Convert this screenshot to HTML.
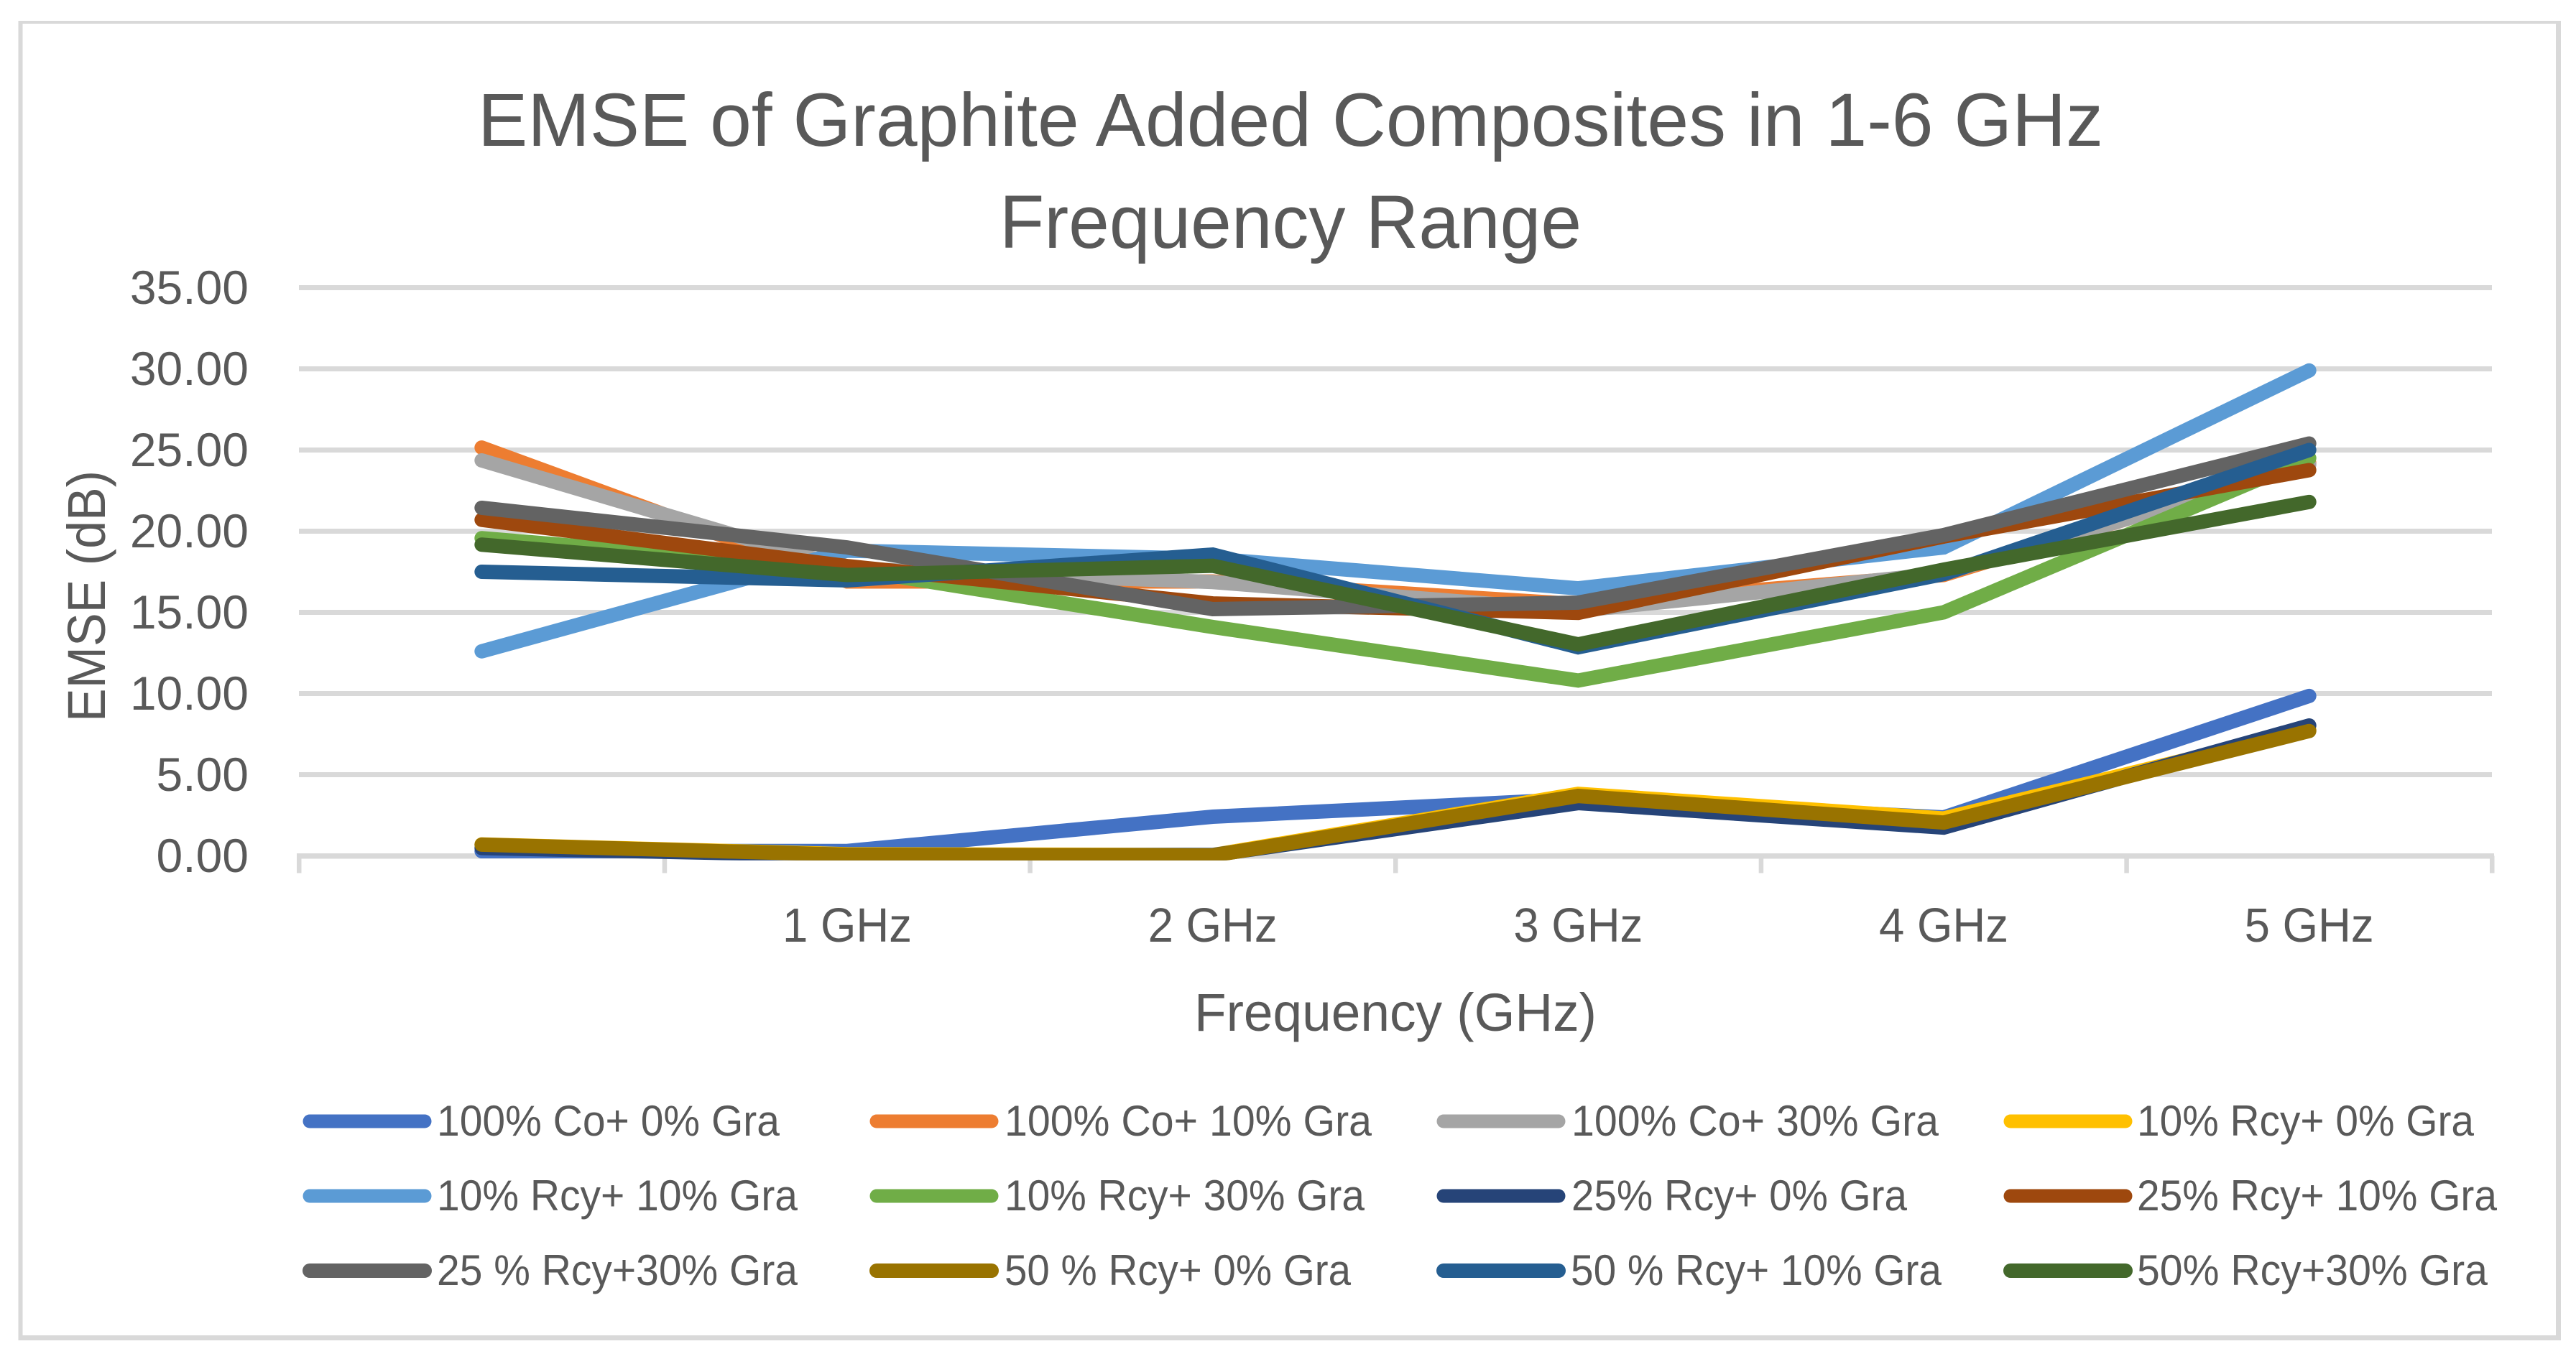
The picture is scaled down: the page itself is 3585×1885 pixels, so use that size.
<!DOCTYPE html>
<html lang="en">
<head>
<meta charset="utf-8">
<title>EMSE of Graphite Added Composites in 1-6 GHz Frequency Range</title>
<style>
html,body{margin:0;padding:0;background:#fff;}
svg{display:block;}
text{font-family:"Liberation Sans",sans-serif;fill:#595959;}
</style>
</head>
<body>
<svg id="chart" xmlns="http://www.w3.org/2000/svg" width="3585" height="1885" viewBox="0 0 3585 1885">
  <defs>
    <clipPath id="plot-clip"><rect x="0" y="0" width="3585" height="1197.7"/></clipPath>
  </defs>
  <rect x="0" y="0" width="3585" height="1885" fill="#ffffff"/>
  <g fill="#d9d9d9">
    <rect x="25.5" y="29" width="3538.5" height="4"/>
    <rect x="25.5" y="1859" width="3538.5" height="7"/>
    <rect x="25.5" y="29" width="6" height="1837"/>
    <rect x="3557" y="29" width="7" height="1837"/>
  </g>
  <text x="665" y="203" font-size="105" textLength="2262" lengthAdjust="spacingAndGlyphs">EMSE of Graphite Added Composites in 1-6 GHz</text>
  <text x="1391" y="345" font-size="105" textLength="810" lengthAdjust="spacingAndGlyphs">Frequency Range</text>
  <text transform="translate(146,1005) rotate(-90)" x="0" y="0" font-size="74" textLength="350" lengthAdjust="spacingAndGlyphs">EMSE (dB)</text>
  <text x="1662" y="1435" font-size="74" textLength="560" lengthAdjust="spacingAndGlyphs">Frequency (GHz)</text>
  <g id="grid"></g>
  <g id="yticks"></g>
  <g id="xaxis"></g>
  <g id="series" clip-path="url(#plot-clip)"></g>

  <g font-size="60" stroke-linecap="round">
    <g><line x1="431" x2="591" y1="1561" y2="1561" stroke="#4472C4" stroke-width="19"/><text x="608" y="1581" textLength="477" lengthAdjust="spacingAndGlyphs">100% Co+ 0% Gra</text></g>
    <g><line x1="1220" x2="1380" y1="1561" y2="1561" stroke="#ED7D31" stroke-width="19"/><text x="1398" y="1581" textLength="511" lengthAdjust="spacingAndGlyphs">100% Co+ 10% Gra</text></g>
    <g><line x1="2009" x2="2169" y1="1561" y2="1561" stroke="#A5A5A5" stroke-width="19"/><text x="2187" y="1581" textLength="511" lengthAdjust="spacingAndGlyphs">100% Co+ 30% Gra</text></g>
    <g><line x1="2798" x2="2958" y1="1561" y2="1561" stroke="#FFC000" stroke-width="19"/><text x="2974" y="1581" textLength="469" lengthAdjust="spacingAndGlyphs">10% Rcy+ 0% Gra</text></g>

    <g><line x1="431" x2="591" y1="1665" y2="1665" stroke="#5B9BD5" stroke-width="19"/><text x="608" y="1685" textLength="502" lengthAdjust="spacingAndGlyphs">10% Rcy+ 10% Gra</text></g>
    <g><line x1="1220" x2="1380" y1="1665" y2="1665" stroke="#70AD47" stroke-width="19"/><text x="1398" y="1685" textLength="501" lengthAdjust="spacingAndGlyphs">10% Rcy+ 30% Gra</text></g>
    <g><line x1="2009" x2="2169" y1="1665" y2="1665" stroke="#264478" stroke-width="19"/><text x="2187" y="1685" textLength="467" lengthAdjust="spacingAndGlyphs">25% Rcy+ 0% Gra</text></g>
    <g><line x1="2798" x2="2958" y1="1665" y2="1665" stroke="#9E480E" stroke-width="19"/><text x="2974" y="1685" textLength="501" lengthAdjust="spacingAndGlyphs">25% Rcy+ 10% Gra</text></g>

    <g><line x1="431" x2="591" y1="1769" y2="1769" stroke="#636363" stroke-width="20"/><text x="608" y="1789" textLength="502" lengthAdjust="spacingAndGlyphs">25 % Rcy+30% Gra</text></g>
    <g><line x1="1220" x2="1380" y1="1769" y2="1769" stroke="#997300" stroke-width="20"/><text x="1398" y="1789" textLength="482" lengthAdjust="spacingAndGlyphs">50 % Rcy+ 0% Gra</text></g>
    <g><line x1="2009" x2="2169" y1="1769" y2="1769" stroke="#255E91" stroke-width="20"/><text x="2186" y="1789" textLength="516" lengthAdjust="spacingAndGlyphs">50 % Rcy+ 10% Gra</text></g>
    <g><line x1="2798" x2="2958" y1="1769" y2="1769" stroke="#43682B" stroke-width="20"/><text x="2974" y="1789" textLength="488" lengthAdjust="spacingAndGlyphs">50% Rcy+30% Gra</text></g>
  </g>
</svg>
<script>
var categories = ["", "1 GHz", "2 GHz", "3 GHz", "4 GHz", "5 GHz"];
var yTickValues = [0, 5, 10, 15, 20, 25, 30, 35];

var co100Gra0 = [0.29, 0.30, 2.41, 3.50, 2.37, 9.85];
var co100Gra10 = [25.15, 16.90, 16.90, 15.50, 17.30, 24.20];
var co100Gra30 = [24.36, 17.70, 16.87, 15.10, 17.40, 24.10];
var rcy10Gra0 = [0.70, 0.10, 0.05, 3.82, 2.30, 7.75];
var rcy10Gra10 = [12.60, 18.80, 18.30, 16.48, 19.00, 29.90];
var rcy10Gra30 = [19.57, 17.70, 14.10, 10.80, 15.00, 24.50];
var rcy25Gra0 = [0.48, 0.02, 0.05, 3.25, 1.74, 8.03];
var rcy25Gra10 = [20.70, 17.85, 15.55, 14.97, 19.67, 23.76];
var rcy25Gra30 = [21.44, 19.00, 15.20, 15.60, 19.76, 25.40];
var rcy50Gra0 = [0.69, 0.07, 0.02, 3.69, 2.05, 7.69];
var rcy50Gra10 = [17.50, 16.97, 18.56, 12.85, 17.36, 25.00];
var rcy50Gra30 = [19.17, 17.30, 17.87, 13.03, 17.63, 21.80];

var seriesValues = [co100Gra0, co100Gra10, co100Gra30, rcy10Gra0, rcy10Gra10, rcy10Gra30, rcy25Gra0, rcy25Gra10, rcy25Gra30, rcy50Gra0, rcy50Gra10, rcy50Gra30];
var seriesNames = ["100-co-0-gra", "100-co-10-gra", "100-co-30-gra", "10-rcy-0-gra", "10-rcy-10-gra", "10-rcy-30-gra", "25-rcy-0-gra", "25-rcy-10-gra", "25-rcy-30-gra", "50-rcy-0-gra", "50-rcy-10-gra", "50-rcy-30-gra"];
var seriesColors = ["#4472C4", "#ED7D31", "#A5A5A5", "#FFC000", "#5B9BD5", "#70AD47", "#264478", "#9E480E", "#636363", "#997300", "#255E91", "#43682B"];

var NS = "http://www.w3.org/2000/svg";
var plotLeft = 416, plotRight = 3468, plotZeroY = 1191.5, unitPx = 22.6;
var bandWidth = (plotRight - plotLeft) / categories.length;

function xScale(i) { return plotLeft + bandWidth * (i + 0.5); }
function yScale(v) { return plotZeroY - unitPx * v; }

var gridGroup = document.getElementById("grid");
var yTickGroup = document.getElementById("yticks");
var xAxisGroup = document.getElementById("xaxis");
var seriesGroup = document.getElementById("series");

yTickValues.forEach(function (v) {
  var y = yScale(v);
  if (v !== 0) {
    var g = document.createElementNS(NS, "rect");
    g.setAttribute("x", plotLeft);
    g.setAttribute("y", y - 3.5);
    g.setAttribute("width", plotRight - plotLeft);
    g.setAttribute("height", 7);
    g.setAttribute("fill", "#d9d9d9");
    
    
    gridGroup.appendChild(g);
  }
  var t = document.createElementNS(NS, "text");
  t.setAttribute("x", 346);
  t.setAttribute("y", y + 22.5);
  t.setAttribute("font-size", 66);
  t.setAttribute("text-anchor", "end");
  t.textContent = v.toFixed(2);
  
  
  yTickGroup.appendChild(t);
});

var axisLine = document.createElementNS(NS, "rect");
axisLine.setAttribute("x", plotLeft - 3);
axisLine.setAttribute("y", plotZeroY - 3.5);
axisLine.setAttribute("width", plotRight - plotLeft + 6);
axisLine.setAttribute("height", 7.5);
axisLine.setAttribute("fill", "#d9d9d9");


xAxisGroup.appendChild(axisLine);

for (var k = 0; k <= categories.length; k++) {
  var tick = document.createElementNS(NS, "rect");
  tick.setAttribute("x", plotLeft + bandWidth * k - 3);
  tick.setAttribute("y", plotZeroY);
  tick.setAttribute("width", 6.5);
  tick.setAttribute("height", 24);
  tick.setAttribute("fill", "#d9d9d9");
  
  
  xAxisGroup.appendChild(tick);
}

categories.forEach(function (label, i) {
  if (!label) { return; }
  var t = document.createElementNS(NS, "text");
  t.setAttribute("x", xScale(i) - 90);
  t.setAttribute("y", 1311);
  t.setAttribute("font-size", 67);
  t.setAttribute("textLength", 180);
  t.setAttribute("lengthAdjust", "spacingAndGlyphs");
  t.textContent = label;
  
  
  xAxisGroup.appendChild(t);
});

seriesValues.forEach(function (values, s) {
  var pts = values.map(function (v, i) {
    return xScale(i).toFixed(2) + "," + yScale(v).toFixed(2);
  }).join(" ");
  var line = document.createElementNS(NS, "polyline");
  line.setAttribute("points", pts);
  line.setAttribute("fill", "none");
  line.setAttribute("stroke", seriesColors[s]);
  line.setAttribute("stroke-width", 20);
  line.setAttribute("stroke-linecap", "round");
  line.setAttribute("stroke-linejoin", "miter");
  
  
  seriesGroup.appendChild(line);
});
</script>
</body>
</html>
